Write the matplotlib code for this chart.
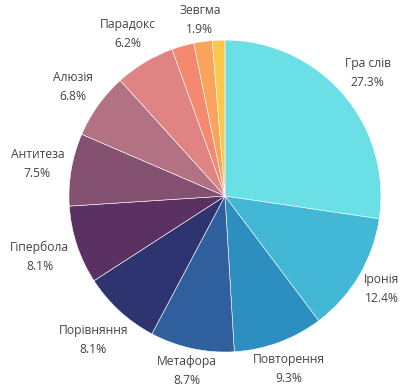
import matplotlib
matplotlib.use("Agg")
import numpy as np
import matplotlib.pyplot as plt

plt.rcParams["font.family"] = ["Open Sans", "DejaVu Sans"]

# slices, clockwise from 12 o'clock
categories = [
    "Гра слів", "Іронія", "Повторення", "Метафора", "Порівняння",
    "Гіпербола", "Антитеза", "Алюзія", "Парадокс", "Інше", "Зевгма", "Літота",
]
values = [27.3, 12.4, 9.3, 8.7, 8.1, 8.1, 7.5, 6.8, 6.2, 2.3, 1.9, 1.3]
hidden = ["Інше", "Літота"]  # too small, no label in the original

colors = [
    "#6ae0e6", "#42b8d6", "#2c8fc0", "#2f5f9d", "#2e3470", "#5b3062",
    "#845070", "#b27283", "#e08483", "#f5896f", "#f9a35c", "#fbc84c",
]

# how far out each label sits, in pie radii
label_r = [1.21, 1.17, 1.18, 1.15, 1.25, 1.25, 1.22, 1.2, 1.21, 0, 1.14, 0]

fig = plt.figure(figsize=(4.01, 3.89), dpi=100)
ax = fig.add_axes([0.172, 0.095, 0.778, 0.802])

wedges, _ = ax.pie(
    values,
    colors=colors,
    startangle=90,
    counterclock=False,
    wedgeprops={"edgecolor": "white", "linewidth": 0.4},
)

for w, c, v, r in zip(wedges, categories, values, label_r):
    if c in hidden:
        continue
    mid = np.deg2rad((w.theta1 + w.theta2) / 2)
    ax.text(
        r * np.cos(mid),
        r * np.sin(mid),
        f"{c}\n{v:.1f}%",
        ha="center",
        va="center",
        fontsize=8.7,
        color="#444444",
        linespacing=1.6,
        clip_on=False,
    )

ax.set_xlim(-1, 1)
ax.set_ylim(-1, 1)

fig.savefig("out.png", dpi=100)
